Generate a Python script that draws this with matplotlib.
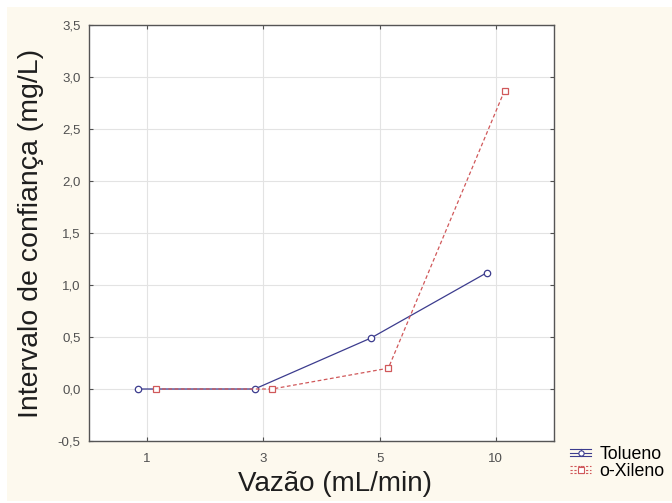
import matplotlib
matplotlib.use("Agg")
import matplotlib.pyplot as plt
from matplotlib.patches import Rectangle
from matplotlib.lines import Line2D
from matplotlib.legend_handler import HandlerBase
import numpy as np

categories = ["1", "3", "5", "10"]
tolueno = [0.0, 0.0, 0.49, 1.12]
xileno = [0.0, 0.0, 0.20, 2.87]
yticks = [-0.5, 0.0, 0.5, 1.0, 1.5, 2.0, 2.5, 3.0, 3.5]

plt.rcParams['font.family'] = ['Liberation Sans', 'DejaVu Sans']

W, H = 672, 503
fig = plt.figure(figsize=(W / 100, H / 100), dpi=100)
fig.patch.set_facecolor('white')
fig.patches.append(Rectangle((7 / W, 2 / H), 1 - 7 / W, (H - 9) / H,
                             transform=fig.transFigure, facecolor='#fdf9ee',
                             edgecolor='none', zorder=-10))

L, R, T, B = 89, 554, 25, 441
ax = fig.add_axes([L / W, (H - B) / H, (R - L) / W, (B - T) / H])
ax.set_facecolor('white')

blue = '#3c3c8e'
red = '#d0585a'
x = np.arange(len(categories))
off = 0.075
ax.plot(x - off, tolueno, color=blue, lw=0.9, marker='o', ms=4.6,
        mfc='white', mec=blue, mew=0.9, zorder=3)
ax.plot(x + off, xileno, color=red, lw=0.9, ls=(0, (3, 2)), marker='s', ms=4.6,
        mfc='white', mec=red, mew=0.9, zorder=3)

ax.set_xlim(-0.5, len(categories) - 0.5)
ax.set_ylim(-0.5, 3.5)
ax.set_xticks(x)
ax.set_xticklabels(categories)
ax.set_yticks(yticks)
ax.set_yticklabels([f"{v:.1f}".replace('.', ',') for v in yticks])
ax.grid(True, color='#e3e3e3', lw=0.8)
ax.set_axisbelow(True)
ax.tick_params(direction='in', length=3, width=0.8, colors='#505050',
               labelsize=9.5, top=True, right=True)
ax.tick_params(axis='y', pad=6)
ax.tick_params(axis='x', pad=9)
for s in ax.spines.values():
    s.set_color('#555555')
    s.set_linewidth(1.0)

ax.set_ylabel('Intervalo de confiança (mg/L)', fontsize=20.5, color='#1e1e1e')
ax.yaxis.set_label_coords((44 - L) / (R - L), 0.5)
ax.set_xlabel('Vazão (mL/min)', fontsize=20, color='#1e1e1e')
ax.xaxis.set_label_coords((335 - L) / (R - L), -(471 - B) / (B - T))


class ErrHandler(HandlerBase):
    def __init__(self, color, ls, marker):
        super().__init__()
        self.color = color
        self.ls = ls
        self.marker = marker

    def create_artists(self, legend, orig_handle, xdescent, ydescent, width,
                       height, fontsize, trans):
        cy = height / 2 - ydescent
        d = 2.6
        arts = []
        for yy in (cy - d, cy, cy + d):
            arts.append(Line2D([-xdescent, width - xdescent], [yy, yy],
                               color=self.color, lw=0.8, ls=self.ls, transform=trans))
        cx = width / 2 - xdescent
        arts.append(Line2D([cx, cx], [cy - d, cy + d],
                           color=self.color, lw=0.8, transform=trans))
        arts.append(Line2D([cx], [cy], marker=self.marker, ms=3.8, mfc='white',
                           mec=self.color, mew=0.8, ls='none', transform=trans))
        return arts


h1 = Line2D([], [], color=blue)
h2 = Line2D([], [], color=red)
fig.legend([h1, h2], ['Tolueno', 'o-Xileno'],
           handler_map={h1: ErrHandler(blue, '-', 'o'), h2: ErrHandler(red, (0, (2, 1.5)), 's')},
           loc='upper left', bbox_to_anchor=(570 / W, (H - 446) / H),
           frameon=False, fontsize=12.8, handlelength=1.2, handletextpad=0.45,
           labelspacing=0.0, borderaxespad=0, borderpad=0)

fig.savefig('out.png', dpi=100, facecolor=fig.get_facecolor())
